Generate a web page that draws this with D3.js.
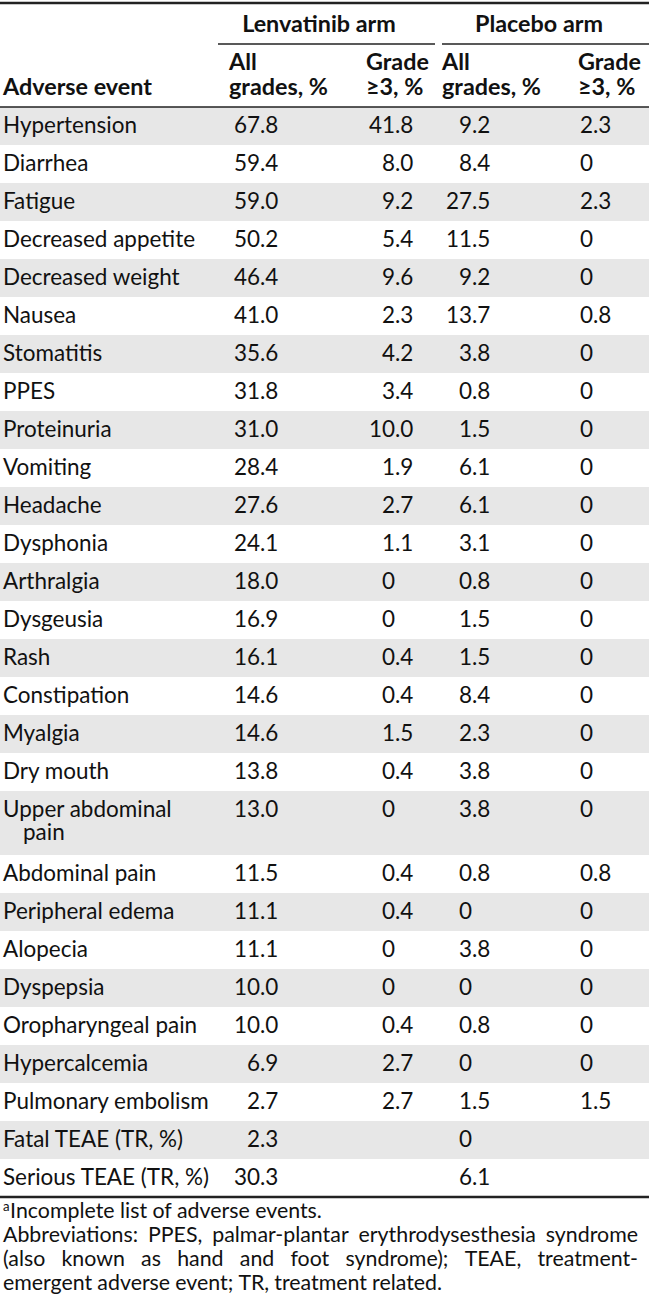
<!DOCTYPE html>
<meta charset="utf-8">
<style>
body { margin: 0; background: #fff; }
svg { display: block; font-family: Lato, "Open Sans", sans-serif; }
</style>
<body>
<script src="https://d3js.org/d3.v7.min.js"></script>
<script>

var events = ["Hypertension", "Diarrhea", "Fatigue", "Decreased appetite", "Decreased weight",
  "Nausea", "Stomatitis", "PPES", "Proteinuria", "Vomiting", "Headache", "Dysphonia",
  "Arthralgia", "Dysgeusia", "Rash", "Constipation", "Myalgia", "Dry mouth",
  "Upper abdominal|pain", "Abdominal pain", "Peripheral edema", "Alopecia", "Dyspepsia",
  "Oropharyngeal pain", "Hypercalcemia", "Pulmonary embolism", "Fatal TEAE (TR, %)",
  "Serious TEAE (TR, %)"];

var lenvAll = [67.8, 59.4, 59.0, 50.2, 46.4, 41.0, 35.6, 31.8, 31.0, 28.4, 27.6, 24.1,
  18.0, 16.9, 16.1, 14.6, 14.6, 13.8, 13.0, 11.5, 11.1, 11.1, 10.0, 10.0, 6.9, 2.7, 2.3, 30.3];
var lenvG3 = [41.8, 8.0, 9.2, 5.4, 9.6, 2.3, 4.2, 3.4, 10.0, 1.9, 2.7, 1.1,
  0, 0, 0.4, 0.4, 1.5, 0.4, 0, 0.4, 0.4, 0, 0, 0.4, 2.7, 2.7, null, null];
var placAll = [9.2, 8.4, 27.5, 11.5, 9.2, 13.7, 3.8, 0.8, 1.5, 6.1, 6.1, 3.1,
  0.8, 1.5, 1.5, 8.4, 2.3, 3.8, 3.8, 0.8, 0, 3.8, 0, 0.8, 0, 1.5, 0, 6.1];
var placG3 = [2.3, 0, 2.3, 0, 0, 0.8, 0, 0, 0, 0, 0, 0,
  0, 0, 0, 0, 0, 0, 0, 0.8, 0, 0, 0, 0, 0, 1.5, null, null];

var armLabels = ["Lenvatinib arm", "Placebo arm"];
var subLabels = [["All", "grades, %"], ["Grade", "≥3, %"], ["All", "grades, %"], ["Grade", "≥3, %"]];
var footnoteA = "Incomplete list of adverse events.";
var abbrevLines = ["Abbreviations: PPES, palmar-plantar erythrodysesthesia syndrome",
  "(also known as hand and foot syndrome); TEAE, treatment-",
  "emergent adverse event; TR, treatment related."];

var width = 649, height = 1305;

var svg = d3.select("body").append("svg")
    .attr("width", width)
    .attr("height", height);

function fitSize(txt, weight, target) {
  var t = svg.append("text").style("font-size", "100px").style("font-weight", weight).text(txt);
  var w = t.node().getComputedTextLength();
  t.remove();
  return 100 * target / w;
}
var fs = fitSize("Hypertension", "normal", 134);
var fsBold = fitSize("grades, %", "bold", 99);
var fsFoot = fitSize(footnoteA, "normal", 312);

var headTop = 107, rowH = 38, lineGap = 23;
var rows = events.map(function(e, i) {
  return {label: e.split("|"), vals: [lenvAll[i], lenvG3[i], placAll[i], placG3[i]]};
});
var y0 = headTop;
rows.forEach(function(r) {
  r.top = y0;
  r.h = rowH + (r.label.length - 1) * 26;
  y0 += r.h;
});
var tableBottom = y0;

// decimal point position of each value column
var decX = [260, 395, 472, 593];

function fmt(v) { return v === 0 ? "0" : v.toFixed(1); }

// shading
svg.selectAll("rect.shade")
  .data(rows.filter(function(d, i) { return i % 2 === 0; }))
  .join("rect")
    .attr("x", 0).attr("width", width)
    .attr("y", function(d) { return d.top; })
    .attr("height", function(d) { return d.h; })
    .attr("fill", "#e7e7e7");

// rules
function rule(x1, x2, y, w) {
  svg.append("line").attr("x1", x1).attr("x2", x2).attr("y1", y).attr("y2", y)
    .attr("stroke", "#222").attr("stroke-width", w);
}
rule(0, width, 3, 2.5);
rule(218, 435, 44, 1.5);
rule(442, width, 44, 1.5);
rule(0, width, headTop, 1.5);
rule(0, width, tableBottom, 2.5);

// header
var hd = svg.append("g").style("font-weight", "bold").style("font-size", fsBold + "px").attr("fill", "#111");
hd.selectAll("text.arm").data(armLabels).join("text")
    .attr("x", function(d, i) { return [319, 539][i]; })
    .attr("y", 32)
    .attr("text-anchor", "middle")
    .text(function(d) { return d; });
var subX = [229, 366, 442, 578];
subLabels.forEach(function(s, i) {
  hd.append("text").attr("x", subX[i]).attr("y", 70).text(s[0]);
  hd.append("text").attr("x", subX[i]).attr("y", 95).text(s[1]);
});
hd.append("text").attr("x", 3).attr("y", 95).text("Adverse event");

// body rows
var body = svg.append("g").style("font-size", fs + "px").attr("fill", "#111");
var rg = body.selectAll("g.row").data(rows).join("g")
    .attr("transform", function(d) { return "translate(0," + (d.top + 26) + ")"; });
rg.each(function(d) {
  var g = d3.select(this);
  d.label.forEach(function(l, j) {
    g.append("text").attr("x", j ? 23 : 3).attr("y", j * lineGap).text(l);
  });
  d.vals.forEach(function(v, k) {
    if (v === null) return;
    var s = fmt(v).split(".");
    g.append("text").attr("x", decX[k]).attr("y", 0).attr("text-anchor", "end").text(s[0]);
    if (s.length > 1)
      g.append("text").attr("x", decX[k]).attr("y", 0).text("." + s[1]);
  });
});

// footnotes
var ft = svg.append("g").style("font-size", fsFoot + "px").attr("fill", "#111");
var fa = ft.append("text").attr("x", 3).attr("y", 1218);
fa.append("tspan").style("font-size", (fsFoot * 0.62) + "px").attr("dy", -7).text("a");
fa.append("tspan").attr("dy", 7).attr("dx", 0.5).text(footnoteA);

var left = 3, right = 638;
abbrevLines.forEach(function(line, i) {
  var yy = 1242 + i * 23.8;
  var words = line.split(" ");
  var justify = i < abbrevLines.length - 1;
  var ws = words.map(function(w) {
    var t = ft.append("text").text(w);
    var wd = t.node().getComputedTextLength();
    t.remove();
    return wd;
  });
  var total = d3.sum(ws);
  var gap = justify ? (right - left - total) / (words.length - 1) : fsFoot * 0.24;
  var xx = left;
  words.forEach(function(w, k) {
    ft.append("text").attr("x", xx).attr("y", yy).text(w);
    xx += ws[k] + gap;
  });
});

</script>
</body>
